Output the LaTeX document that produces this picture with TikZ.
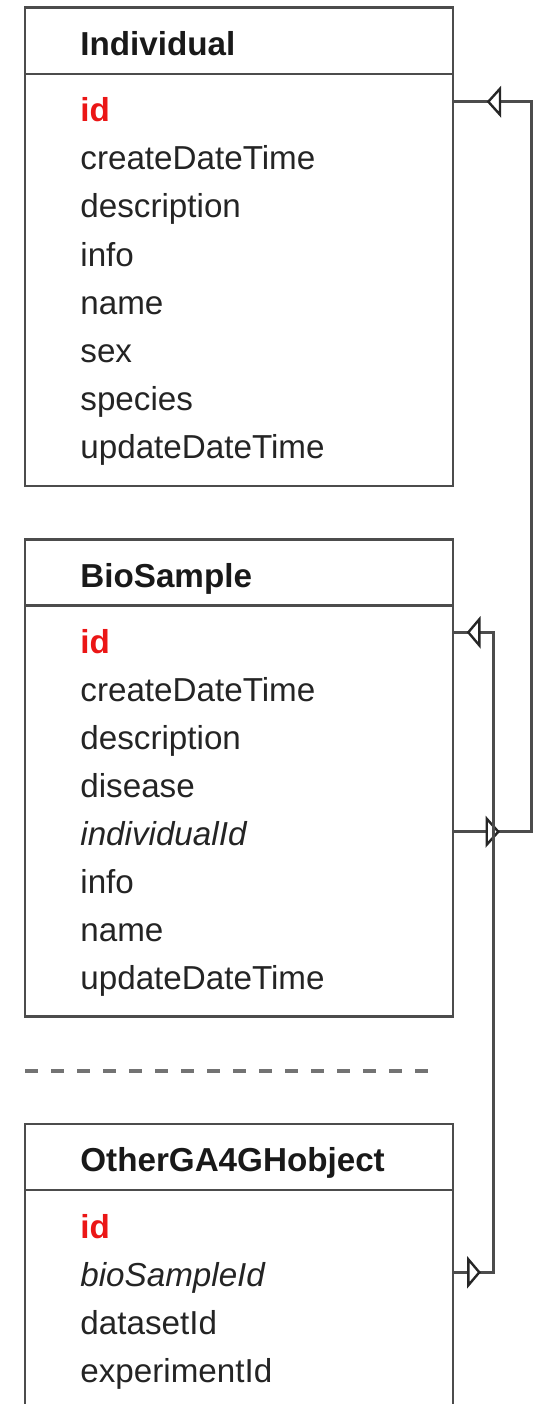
\documentclass[tikz,border=0pt]{standalone}
\usepackage{fontspec}
\setmainfont{Liberation Sans}
\definecolor{idred}{RGB}{235,22,22}
\begin{document}
\begin{tikzpicture}[x=0.5pt,y=-0.5pt,
  boxline/.style={draw=black!70, line width=1.4pt},
  title/.style={anchor=base west, inner sep=0pt, font=\fontsize{16.6}{20}\selectfont\bfseries, text=black!90},
  field/.style={anchor=base west, inner sep=0pt, font=\fontsize{16.6}{20}\selectfont, text=black!86},
  keyfield/.style={anchor=base west, inner sep=0pt, font=\fontsize{16.6}{20}\selectfont\bfseries, text=idred},
  fkfield/.style={anchor=base west, inner sep=0pt, font=\fontsize{16.6}{20}\selectfont\itshape, text=black!86},
  conn/.style={draw=black!70, line width=1.4pt},
  tri/.style={draw=black!85, line width=1.2pt, fill=white, line join=miter},
  sep/.style={draw=black!55, line width=1.9pt, dash pattern=on 6.65pt off 6.35pt}
]
\useasboundingbox (0,0) rectangle (540,1404);

% ---------- Individual ----------
\coordinate (ind-nw) at (25,7.5);
\coordinate (ind-se) at (453,486);
\draw[boxline] (ind-nw) rectangle (ind-se);
\draw[boxline] (25,74) -- (453,74);
\node[title] (ind-t) at (80,55) {Individual};
\node[keyfield] (ind-id) at (80,121.7) {id};
\node[field] (ind-c) at (80,169.8) {createDateTime};
\node[field] (ind-d) at (80,217.9) {description};
\node[field] (ind-i) at (80,266.0) {info};
\node[field] (ind-n) at (80,314.1) {name};
\node[field] (ind-s) at (80,362.2) {sex};
\node[field] (ind-sp) at (80,410.3) {species};
\node[field] (ind-u) at (80,458.4) {updateDateTime};

% ---------- BioSample ----------
\coordinate (bio-nw) at (25,539.5);
\coordinate (bio-se) at (453,1016.7);
\draw[boxline] (bio-nw) rectangle (bio-se);
\draw[boxline] (25,605.5) -- (453,605.5);
\node[title] (bio-t) at (80,587) {BioSample};
\node[keyfield] (bio-id) at (80,653) {id};
\node[field] (bio-c) at (80,701) {createDateTime};
\node[field] (bio-d) at (80,749) {description};
\node[field] (bio-dis) at (80,797) {disease};
\node[fkfield] (bio-ind) at (80,845) {individualId};
\node[field] (bio-i) at (80,893) {info};
\node[field] (bio-n) at (80,941) {name};
\node[field] (bio-u) at (80,989) {updateDateTime};

% ---------- separator ----------
\coordinate (sep-l) at (25,1070.7);
\coordinate (sep-r) at (428,1070.7);
\draw[sep] (sep-l) -- (sep-r);

% ---------- OtherGA4GHobject ----------
\coordinate (oth-sw) at (25,1404);
\coordinate (oth-nw) at (25,1124);
\coordinate (oth-ne) at (453,1124);
\coordinate (oth-se) at (453,1404);
\draw[boxline] (oth-sw) -- (oth-nw) -- (oth-ne) -- (oth-se);
\draw[boxline] (25,1190) -- (453,1190);
\node[title] (oth-t) at (80,1171.5) {OtherGA4GHobject};
\node[keyfield] (oth-id) at (80,1238.3) {id};
\node[fkfield] (oth-bs) at (80,1286.4) {bioSampleId};
\node[field] (oth-ds) at (80,1334.5) {datasetId};
\node[field] (oth-ex) at (80,1382.6) {experimentId};

% ---------- connector ports ----------
\coordinate (ind-id-r) at (453,101.7);
\coordinate (bio-ind-r) at (453,831.7);
\coordinate (busA) at (531.7,400);
\coordinate (bio-id-r) at (453,632.3);
\coordinate (oth-bs-r) at (453,1272.3);
\coordinate (busB) at (493.3,900);

% connector 1: Individual.id -- BioSample.individualId
\draw[conn] (ind-id-r) -| (busA) |- (bio-ind-r);
\draw[tri] (488.3,101.7) -- (500,88.7) -- (500,114.7) -- cycle;
\draw[tri] (498.3,831.7) -- (486.7,818.7) -- (486.7,844.7) -- cycle;

% connector 2: BioSample.id -- OtherGA4GHobject.bioSampleId
\draw[conn] (bio-id-r) -| (busB) |- (oth-bs-r);
\draw[tri] (468.3,632.3) -- (479.3,619.3) -- (479.3,645.3) -- cycle;
\draw[tri] (479.3,1272.3) -- (468.3,1259.3) -- (468.3,1285.3) -- cycle;
\end{tikzpicture}
\end{document}
